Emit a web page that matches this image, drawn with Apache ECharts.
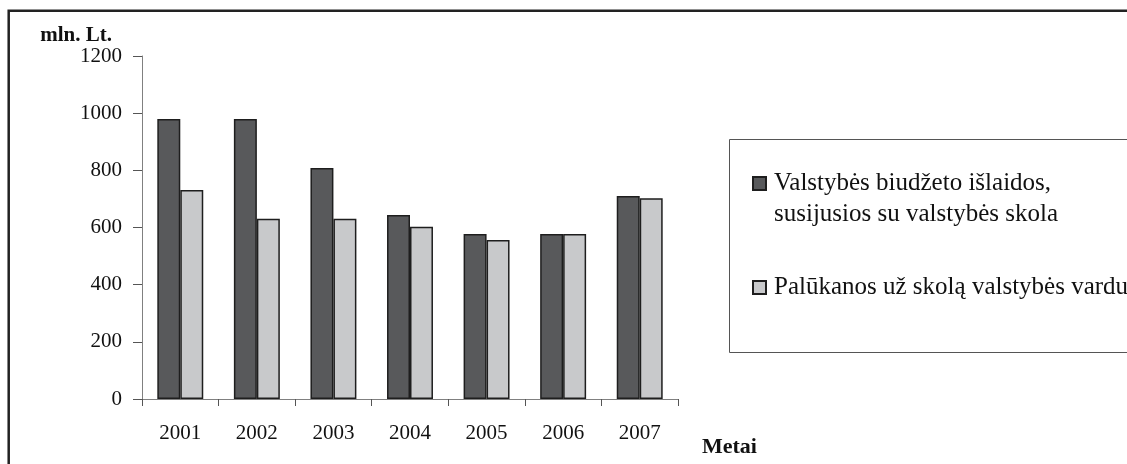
<!DOCTYPE html>
<html>
<head>
<meta charset="utf-8">
<script src="https://cdn.jsdelivr.net/npm/echarts@6/dist/echarts.min.js"></script>
<style>
  html, body { margin: 0; padding: 0; background: #fff; }
  #chart { width: 1127px; height: 464px; }
</style>
</head>
<body>
<div id="chart"></div>
<script>
// Valstybės skolos išlaidos, mln. Lt
const years = ['2001', '2002', '2003', '2004', '2005', '2006', '2007'];
const budgetExpenses = [980, 980, 808, 644, 577, 577, 710];
const interestPaid = [731, 631, 631, 603, 556, 577, 702];
const yTicks = [0, 200, 400, 600, 800, 1000, 1200];

const seriesNames = [
  'Valstybės biudžeto išlaidos,\nsusijusios su valstybės skola',
  'Palūkanos už skolą valstybės vardu'
];

const FONT = '"Liberation Serif", "DejaVu Serif", serif';

const chart = echarts.init(document.getElementById('chart'), null, { renderer: 'canvas' });

chart.setOption({
  animation: false,
  backgroundColor: '#fff',
  textStyle: { fontFamily: FONT },
  grid: { left: 142, right: 449, top: 56, bottom: 65, containLabel: false },
  graphic: [
    {
      type: 'rect',
      shape: { x: 8.7, y: 10.7, width: 1200, height: 600 },
      style: { fill: 'none', stroke: '#222', lineWidth: 2.5 },
      silent: true
    },
    {
      type: 'rect',
      shape: { x: 729.5, y: 139.5, width: 500, height: 213 },
      style: { fill: 'none', stroke: '#555', lineWidth: 1 },
      silent: true
    }
  ],
  legend: {
    orient: 'vertical',
    left: 747,
    top: 132,
    itemWidth: 13,
    itemHeight: 13,
    itemGap: 42,
    icon: 'rect',
    selectedMode: false,
    formatter: function (name) {
      // leading blank line keeps the icon level with the first text line
      return name.indexOf('\n') >= 0 ? '\n' + name : name;
    },
    textStyle: {
      fontFamily: FONT,
      fontSize: 25,
      lineHeight: 31,
      color: '#111',
      padding: [0, 0, 0, 3]
    },
    data: seriesNames
  },
  xAxis: {
    type: 'category',
    data: years,
    name: 'Metai',
    nameLocation: 'end',
    nameGap: 24,
    nameTextStyle: {
      fontFamily: FONT,
      fontSize: 22,
      fontWeight: 'bold',
      color: '#111',
      align: 'left',
      verticalAlign: 'top',
      padding: [37, 0, 0, 0]
    },
    axisLine: { lineStyle: { color: '#808080', width: 1 } },
    axisTick: { show: true, length: 7, lineStyle: { color: '#555' }, alignWithLabel: false },
    axisLabel: { fontFamily: FONT, fontSize: 21, color: '#111', margin: 24 },
    splitLine: { show: false }
  },
  yAxis: {
    type: 'value',
    min: yTicks[0],
    max: yTicks[yTicks.length - 1],
    interval: 200,
    name: 'mln. Lt.',
    nameLocation: 'end',
    nameGap: 6,
    nameTextStyle: {
      fontFamily: FONT,
      fontSize: 21,
      fontWeight: 'bold',
      color: '#111',
      align: 'right',
      verticalAlign: 'bottom',
      padding: [0, 30, 0, 0]
    },
    axisLine: { show: true, lineStyle: { color: '#808080', width: 1 } },
    axisTick: { show: true, length: 9, lineStyle: { color: '#555' } },
    axisLabel: {
      fontFamily: FONT,
      fontSize: 21,
      color: '#111',
      margin: 20,
      formatter: function (v) { return String(v); }
    },
    splitLine: { show: false }
  },
  series: [
    {
      name: seriesNames[0],
      type: 'bar',
      data: budgetExpenses,
      barGap: '0%',
      barCategoryGap: '40%',
      itemStyle: { color: '#58595b', borderColor: '#1e1e1e', borderWidth: 1.5 }
    },
    {
      name: seriesNames[1],
      type: 'bar',
      data: interestPaid,
      itemStyle: { color: '#c8c9cb', borderColor: '#1e1e1e', borderWidth: 1.5 }
    }
  ]
});
</script>
</body>
</html>
